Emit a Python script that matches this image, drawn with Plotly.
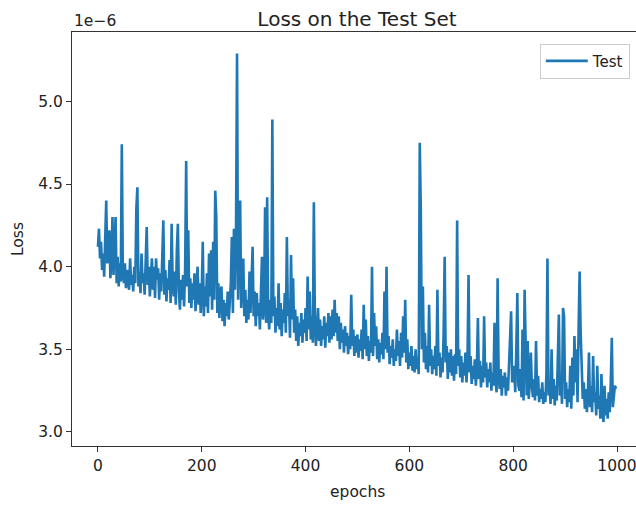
import plotly.graph_objects as go

# Test loss (units of 1e-6), every 2 epochs
epoch_step = 2
loss_e6 = [
    # 0-48
    4.12, 4.23, 4.05, 4.15, 3.98, 4.08, 3.94, 4.20, 4.40, 4.02, 4.10, 4.22, 3.93, 4.05, 4.30, 3.95, 4.12, 4.30, 3.90, 4.06, 3.88, 4.02, 3.91, 4.74, 3.96,
    # 50-98
    3.90, 4.02, 3.87, 3.98, 3.92, 3.86, 4.05, 3.89, 3.95, 3.85, 4.00, 3.90, 4.35, 4.48, 3.88, 3.97, 3.84, 4.08, 3.90, 3.96, 3.83, 4.12, 4.24, 3.89, 4.00,
    # 100-148
    3.82, 3.95, 4.05, 3.86, 4.00, 3.81, 4.05, 3.92, 3.99, 3.80, 3.96, 3.85, 4.10, 4.28, 3.83, 3.98, 3.79, 3.93, 3.86, 4.04, 3.78, 4.26, 3.90, 3.82, 3.97,
    # 150-198
    3.77, 4.10, 4.26, 3.85, 3.74, 3.92, 3.80, 3.95, 3.76, 3.99, 4.64, 3.88, 4.22, 3.78, 3.93, 3.75, 3.90, 3.80, 3.96, 3.73, 3.88, 4.00, 3.77, 3.90, 3.72,
    # 200-248
    3.85, 4.15, 3.70, 3.88, 3.76, 3.96, 3.72, 4.08, 3.82, 4.10, 3.74, 4.15, 3.80, 4.46, 4.30, 3.72, 3.90, 3.69, 3.84, 3.88, 3.67, 3.80, 3.64, 3.78, 3.70,
    # 250-298
    3.85, 3.68, 3.78, 3.90, 4.18, 3.72, 4.23, 3.86, 4.20, 5.29, 3.80, 4.08, 4.40, 3.75, 3.92, 4.05, 3.70, 3.86, 3.66, 3.80, 3.68, 3.97, 3.72, 3.88, 4.12,
    # 300-348
    3.70, 3.85, 3.64, 3.84, 3.70, 3.78, 3.62, 3.80, 4.06, 3.68, 3.76, 4.36, 3.66, 4.42, 3.72, 3.62, 3.80, 3.66, 4.89, 3.70, 3.82, 3.60, 3.75, 3.64, 3.90,
    # 350-398
    3.62, 3.78, 3.58, 3.74, 3.66, 3.84, 3.60, 4.18, 3.70, 3.80, 3.57, 4.07, 3.68, 3.93, 3.60, 3.74, 3.55, 3.70, 3.52, 3.66, 3.58, 3.72, 3.54, 3.68, 3.60,
    # 400-448
    3.75, 3.55, 3.94, 3.62, 3.85, 3.56, 3.70, 3.54, 4.39, 3.66, 3.52, 3.64, 3.75, 3.55, 3.68, 3.52, 3.64, 3.56, 3.70, 3.51, 3.66, 3.58, 3.72, 3.54, 3.70,
    # 450-498
    3.56, 3.74, 3.58, 3.80, 3.60, 3.72, 3.55, 3.70, 3.50, 3.66, 3.54, 3.62, 3.48, 3.64, 3.52, 3.60, 3.47, 3.58, 3.50, 3.83, 3.52, 3.62, 3.46, 3.58, 3.48,
    # 500-548
    3.59, 3.45, 3.56, 3.49, 3.62, 3.44, 3.77, 3.50, 3.68, 3.46, 3.58, 3.43, 3.55, 3.48, 4.00, 3.46, 3.72, 3.52, 3.64, 3.44, 3.56, 3.42, 3.54, 3.47, 3.60,
    # 550-598
    3.44, 3.85, 3.50, 4.00, 3.48, 3.58, 3.41, 3.52, 3.45, 3.56, 3.40, 3.50, 3.43, 3.62, 3.46, 3.55, 3.40, 3.60, 3.45, 3.70, 3.48, 3.80, 3.42, 3.56, 3.38,
    # 600-648
    3.48, 3.40, 3.52, 3.37, 3.46, 3.36, 3.50, 3.38, 3.45, 3.35, 4.75, 4.35, 3.50, 3.88, 3.42, 3.60, 3.38, 3.52, 3.36, 3.77, 3.40, 3.50, 3.35, 3.46, 3.38,
    # 650-698
    3.52, 3.34, 3.86, 3.40, 3.48, 3.33, 3.45, 3.36, 3.60, 4.06, 3.42, 3.52, 3.32, 3.48, 3.36, 3.50, 3.34, 3.46, 3.31, 3.47, 3.35, 4.28, 3.40, 3.50, 3.33,
    # 700-748
    3.46, 3.30, 3.42, 3.34, 3.48, 3.30, 3.44, 3.95, 3.36, 3.46, 3.29, 3.40, 3.32, 3.44, 3.28, 3.38, 3.69, 3.32, 3.43, 3.27, 3.40, 3.30, 3.70, 3.33, 3.42,
    # 750-798
    3.27, 3.38, 3.30, 3.42, 3.25, 3.36, 3.28, 3.66, 3.32, 3.24, 3.93, 3.34, 3.26, 3.38, 3.22, 3.34, 3.27, 3.36, 3.22, 3.33, 3.25, 3.40, 3.52, 3.73, 3.30,
    # 800-848
    3.40, 3.36, 3.24, 3.50, 3.84, 3.28, 3.25, 3.38, 3.21, 3.62, 3.19, 3.86, 3.48, 3.22, 3.55, 3.20, 3.30, 3.48, 3.28, 3.21, 3.32, 3.19, 3.55, 3.22, 3.34,
    # 850-898
    3.18, 3.26, 3.20, 3.30, 3.17, 3.24, 3.18, 3.35, 4.05, 3.22, 3.30, 3.17, 3.50, 3.20, 3.32, 3.16, 3.28, 3.19, 3.40, 3.71, 3.22, 3.34, 3.17, 3.75, 3.70,
    # 900-948
    3.20, 3.30, 3.15, 3.26, 3.18, 3.40, 3.14, 3.45, 3.22, 3.58, 3.30, 3.50, 3.18, 3.62, 3.97, 3.60, 3.40, 3.20, 3.30, 3.14, 3.26, 3.12, 3.24, 3.48, 3.15,
    # 950-998
    3.28, 3.12, 3.46, 3.18, 3.24, 3.10, 3.40, 3.14, 3.22, 3.08, 3.35, 3.12, 3.06, 3.28, 3.10, 3.20, 3.08, 3.24, 3.12, 3.30, 3.57, 3.15, 3.22, 3.28, 3.26,
]
epochs = [i * epoch_step for i in range(len(loss_e6))]

y_ticks = [3.0, 3.5, 4.0, 4.5, 5.0]
y_tick_labels = ["3.0", "3.5", "4.0", "4.5", "5.0"]
x_ticks = [0, 200, 400, 600, 800, 1000]
x_tick_labels = ["0", "200", "400", "600", "800", "1000"]

FONT = "DejaVu Sans"
TXT = "#222222"

fig = go.Figure()
fig.add_trace(go.Scatter(
    x=epochs, y=loss_e6, mode="lines", name="Test",
    line=dict(color="#1f77b4", width=2.6),
))

fig.update_layout(
    width=636, height=507,
    margin=dict(l=72, r=0, t=32, b=61),
    paper_bgcolor="white", plot_bgcolor="white",
    font=dict(family=FONT, size=16, color=TXT),
    showlegend=True,
    title=dict(text="Loss on the Test Set", x=357 / 636, xanchor="center",
               xref="container", y=1 - 19 / 507, yref="container", yanchor="middle",
               font=dict(family=FONT, size=20, color=TXT)),
    legend=dict(x=0.989, xanchor="right", y=0.972, yanchor="top",
                bgcolor="rgba(255,255,255,0.9)", bordercolor="#cccccc", borderwidth=1,
                itemwidth=42,
                font=dict(family=FONT, size=15, color=TXT)),
    xaxis=dict(range=[-49.95, 1036.6], tickmode="array", tickvals=x_ticks, ticktext=x_tick_labels,
               showgrid=False, zeroline=False, showline=True, mirror=True,
               linecolor="#333333", linewidth=1, ticks="outside", ticklen=5,
               tickcolor="#333333", tickfont=dict(size=15.5), ticklabeloverflow="allow"),
    yaxis=dict(range=[2.915, 5.42], tickmode="array", tickvals=y_ticks, ticktext=y_tick_labels,
               showgrid=False, zeroline=False, showline=True, mirror=False,
               linecolor="#333333", linewidth=1, ticks="outside", ticklen=5,
               tickcolor="#333333", tickfont=dict(size=15.5)),
    annotations=[
        dict(text="1e\u22126", xref="paper", yref="paper", x=0, y=1 + 11 / 414,
             xanchor="left", yanchor="middle", showarrow=False,
             font=dict(family=FONT, size=15.5, color=TXT)),
        dict(text="Loss", xref="paper", yref="paper", x=-54 / 564, y=0.5,
             xanchor="center", yanchor="middle", textangle=-90, showarrow=False,
             font=dict(family=FONT, size=15.5, color=TXT)),
        dict(text="epochs", xref="paper", yref="paper", x=285 / 564, y=-46 / 414,
             xanchor="center", yanchor="middle", showarrow=False,
             font=dict(family=FONT, size=15.5, color=TXT)),
    ],
)

fig.write_html("out.html")
